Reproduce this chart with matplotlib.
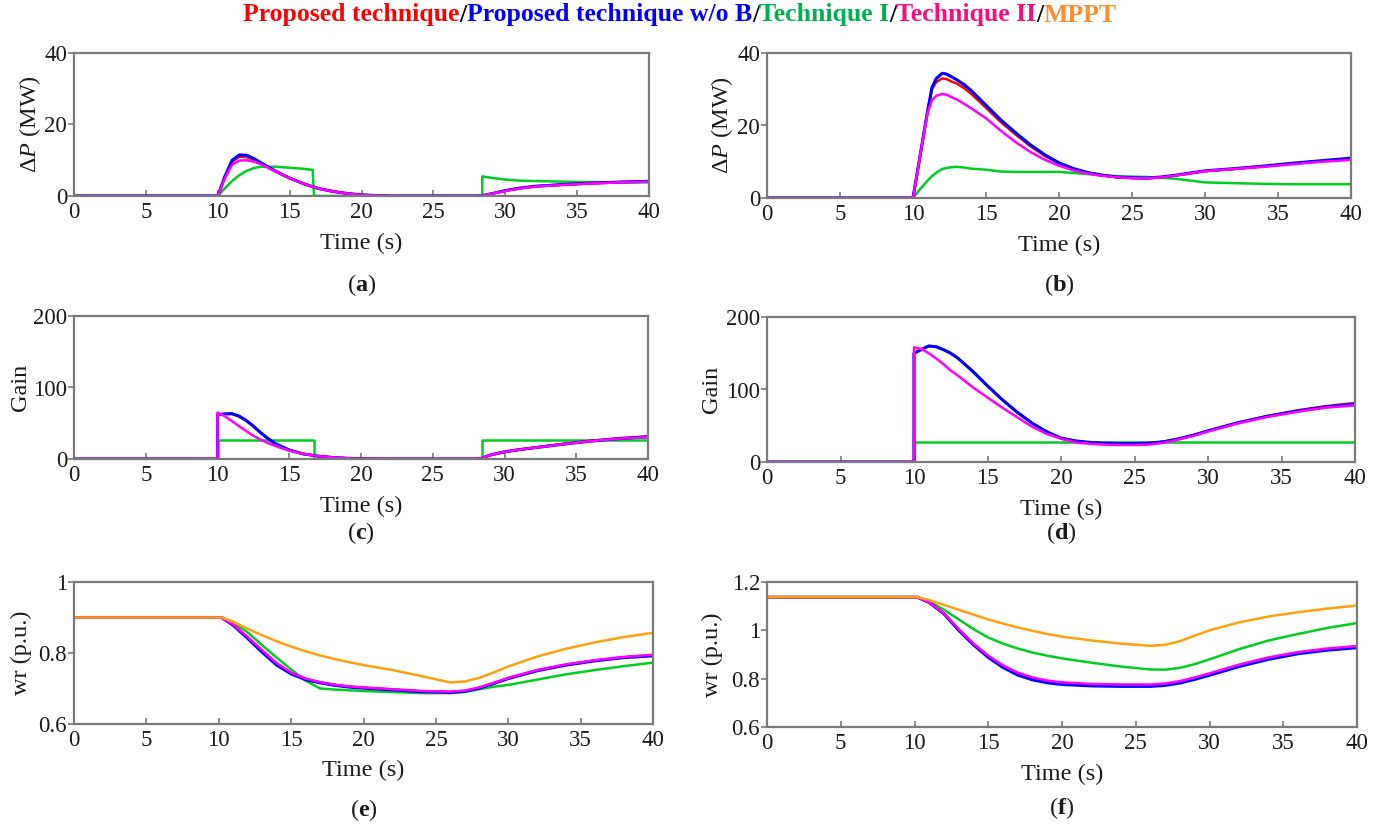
import matplotlib
matplotlib.use("Agg")
import matplotlib.pyplot as plt

plt.rcParams['font.family'] = ['Liberation Serif', 'DejaVu Serif']
plt.rcParams['mathtext.fontset'] = 'custom'
plt.rcParams['mathtext.rm'] = 'Liberation Serif'
plt.rcParams['mathtext.it'] = 'Liberation Serif:italic'
plt.rcParams['mathtext.bf'] = 'Liberation Serif:bold'

# ---------------- data ----------------
# (a) power increment, case 1
T_A = [0, 10, 10.5, 11, 11.5, 12, 12.5, 13, 14, 15, 16, 16.6, 16.7, 17, 18, 19, 20, 22, 25,
       28, 28.4, 28.4, 29, 30, 31, 32, 34, 36, 38, 40]
A_BLUE = [0, 0, 5.5, 10.0, 11.5, 11.4, 10.5, 9.3, 7.0, 5.0, 3.4, 2.6, 2.5, 2.1, 1.3, 0.7, 0.3, 0, 0,
          0, 0.1, 0.1, 0.6, 1.5, 2.2, 2.7, 3.2, 3.6, 3.9, 4.1]
A_RED = [0, 0, 5.3, 9.6, 11.0, 10.9, 10.2, 9.1, 6.9, 5.0, 3.4, 2.6, 2.5, 2.1, 1.3, 0.7, 0.3, 0, 0,
         0, 0.1, 0.1, 0.6, 1.5, 2.2, 2.7, 3.2, 3.6, 3.9, 4.1]
A_MAG = [0, 0, 5.0, 8.8, 9.9, 10.0, 9.6, 8.9, 6.9, 5.0, 3.4, 2.6, 2.5, 2.1, 1.3, 0.7, 0.3, 0, 0,
         0, 0.1, 0.1, 0.6, 1.4, 2.1, 2.6, 3.1, 3.5, 3.8, 4.0]
A_GREEN = [0, 0, 2.2, 4.2, 5.8, 7.0, 7.8, 8.2, 8.2, 7.9, 7.6, 7.3, 0, 0, 0, 0, 0, 0, 0,
           0, 0, 5.5, 5.1, 4.6, 4.3, 4.2, 4.0, 3.9, 3.8, 3.8]

# (b) power increment, case 2
T_B = [0, 10, 10.5, 11, 11.3, 11.6, 12, 12.3, 12.7, 13, 13.5, 14, 15, 16, 17, 18, 19, 20, 21, 22,
       23, 24, 25, 26, 27, 28, 29, 30, 32, 34, 36, 38, 40]
B_BLUE = [0, 0, 12, 24, 30.5, 33.0, 34.4, 34.2, 33.3, 32.6, 31.3, 29.6, 25.6, 21.6, 18.1, 14.8, 12.0,
          9.7, 8.1, 7.0, 6.3, 5.8, 5.6, 5.5, 5.8, 6.3, 6.9, 7.5, 8.1, 8.8, 9.6, 10.3, 11.0]
B_RED = [0, 0, 12, 24, 30.0, 32.0, 33.0, 32.8, 32.0, 31.6, 30.3, 28.7, 24.9, 21.0, 17.6, 14.4, 11.7,
         9.5, 8.0, 6.9, 6.2, 5.7, 5.5, 5.4, 5.7, 6.2, 6.8, 7.4, 8.0, 8.7, 9.5, 10.2, 10.8]
B_MAG = [0, 0, 12, 23.5, 27.0, 28.2, 28.7, 28.5, 27.7, 27.2, 26.0, 24.7, 22.0, 18.6, 15.5, 12.8, 10.6,
         8.9, 7.6, 6.7, 6.1, 5.7, 5.5, 5.4, 5.7, 6.2, 6.8, 7.4, 8.0, 8.6, 9.3, 10.0, 10.5]
B_GREEN = [0, 0, 2.5, 4.8, 6.0, 7.0, 8.0, 8.3, 8.5, 8.6, 8.4, 8.1, 7.8, 7.3, 7.2, 7.2, 7.2, 7.2, 6.9,
           6.6, 6.2, 6.0, 5.9, 5.8, 5.6, 5.3, 4.8, 4.3, 4.1, 3.9, 3.8, 3.8, 3.8]

# (c) controller gain, case 1
T_C = [0, 10, 10, 10.5, 11, 11.5, 12, 12.5, 13, 13.5, 14, 15, 16, 16.7, 16.7, 17, 18, 19, 20, 22,
       25, 28, 28.4, 28.4, 29, 30, 31, 32, 34, 36, 38, 40]
C_BLUE = [0, 0, 62, 63, 63.5, 60, 54, 46, 37, 29, 22, 12.5, 7, 5, 5, 4, 2.2, 1.0, 0.3, 0,
          0, 0, 1, 1, 5.5, 10, 13, 15.5, 20.5, 25, 28.5, 31]
C_RED = [0, 0, 62, 63, 63, 59.5, 53.5, 45.5, 36.5, 28.5, 21.5, 12.5, 7, 5, 5, 4, 2.2, 1.0, 0.3, 0,
         0, 0, 1, 1, 5.5, 10, 13, 15.8, 21, 25.5, 29, 31.5]
C_MAG = [0, 0, 65, 60, 53, 46, 39, 32.5, 27, 22.5, 18.5, 11.5, 7, 5, 5, 4, 2.2, 1.0, 0.3, 0,
         0, 0, 1, 1, 5.5, 10, 13, 15.5, 20.5, 25, 28.5, 30.5]
C_GREEN = [0, 0, 27, 27, 27, 27, 27, 27, 27, 27, 27, 27, 27, 27, 0, 0, 0, 0, 0, 0,
           0, 0, 0, 27, 27, 27, 27, 27, 27, 27, 27, 27]

# (d) controller gain, case 2
T_D = [0, 10, 10, 10.5, 11, 11.5, 12, 12.5, 13, 13.5, 14, 15, 16, 17, 18, 19, 20, 21, 22, 23, 24,
       25, 26, 27, 28, 29, 30, 32, 34, 36, 38, 40]
D_BLUE = [0, 0, 150, 155, 160, 159, 155, 150, 143, 134, 125, 105, 86, 69, 54, 42, 33, 29, 27, 26,
          25.5, 25.5, 26, 28, 32, 37, 43, 54, 63, 70, 76, 80]
D_RED = [0, 0, 150, 155, 160, 159, 155, 150, 143, 134, 125, 105, 86, 69, 54, 42, 33, 29, 27, 26,
         25.5, 25.5, 26, 28, 32, 37, 43, 54, 63, 71, 77, 81.5]
D_MAG = [0, 0, 158, 156, 150, 143, 135, 126, 119, 111, 103, 89, 75, 62, 49, 39, 32, 27, 25, 24,
         23.5, 23.5, 24, 26.5, 31, 36, 42, 53, 62, 69, 75, 78]
D_GREEN = [0, 0, 27, 27, 27, 27, 27, 27, 27, 27, 27, 27, 27, 27, 27, 27, 27, 27, 27, 27,
           27, 27, 27, 27, 27, 27, 27, 27, 27, 27, 27, 27]

# (e) rotor speed, case 1
T_E = [0, 10.2, 11, 12, 13, 14, 15, 16, 17, 18, 19, 20, 22, 24, 26, 27, 28, 29, 30, 32, 34, 36, 38, 40]
E_ORANGE = [0.9, 0.9, 0.888, 0.868, 0.850, 0.833, 0.818, 0.805, 0.793, 0.783, 0.774, 0.766, 0.752,
            0.735, 0.717, 0.720, 0.730, 0.745, 0.762, 0.790, 0.812, 0.830, 0.845, 0.857]
E_MAG = [0.9, 0.9, 0.880, 0.845, 0.808, 0.772, 0.745, 0.728, 0.718, 0.711, 0.706, 0.703, 0.698,
         0.693, 0.691, 0.694, 0.703, 0.716, 0.730, 0.752, 0.768, 0.780, 0.789, 0.795]
E_BLUE = [0.9, 0.9, 0.878, 0.841, 0.802, 0.766, 0.741, 0.725, 0.716, 0.709, 0.704, 0.701, 0.696,
          0.691, 0.689, 0.692, 0.701, 0.714, 0.728, 0.750, 0.766, 0.778, 0.787, 0.792]
E_RED = [0.9, 0.9, 0.879, 0.843, 0.805, 0.769, 0.743, 0.727, 0.717, 0.710, 0.705, 0.702, 0.697,
         0.692, 0.690, 0.693, 0.702, 0.715, 0.729, 0.751, 0.767, 0.779, 0.788, 0.794]
E_GREEN = [0.9, 0.9, 0.886, 0.858, 0.822, 0.787, 0.754, 0.722, 0.700, 0.697, 0.695, 0.693, 0.690,
           0.687, 0.687, 0.690, 0.698, 0.705, 0.710, 0.725, 0.740, 0.752, 0.763, 0.773]

# (f) rotor speed, case 2
T_F = T_E
F_ORANGE = [1.137, 1.137, 1.125, 1.105, 1.085, 1.065, 1.045, 1.028, 1.012, 0.998, 0.985, 0.974,
            0.958, 0.945, 0.936, 0.940, 0.955, 0.978, 1.000, 1.033, 1.057, 1.075, 1.090, 1.103]
F_GREEN = [1.137, 1.137, 1.120, 1.085, 1.045, 1.005, 0.970, 0.945, 0.925, 0.908, 0.895, 0.884,
           0.866, 0.850, 0.838, 0.837, 0.845, 0.860, 0.880, 0.922, 0.958, 0.985, 1.010, 1.030]
F_MAG = [1.137, 1.137, 1.115, 1.070, 1.005, 0.945, 0.895, 0.855, 0.825, 0.805, 0.792, 0.785,
         0.778, 0.776, 0.776, 0.780, 0.790, 0.805, 0.822, 0.858, 0.888, 0.910, 0.925, 0.935]
F_RED = [1.137, 1.137, 1.115, 1.069, 1.003, 0.943, 0.892, 0.851, 0.820, 0.800, 0.788, 0.781,
         0.774, 0.772, 0.772, 0.776, 0.786, 0.801, 0.818, 0.854, 0.884, 0.906, 0.921, 0.931]
F_BLUE = [1.137, 1.137, 1.115, 1.068, 1.000, 0.940, 0.888, 0.846, 0.815, 0.795, 0.783, 0.776,
          0.770, 0.768, 0.768, 0.772, 0.782, 0.797, 0.814, 0.850, 0.880, 0.903, 0.918, 0.928]

X_TICKS = [0, 5, 10, 15, 20, 25, 30, 35, 40]

# ---------------- styling ----------------
C_RED_L = '#FF0000'
C_BLUE_L = '#0000FF'
C_GREEN_L = '#00CC22'
C_MAG_L = '#FF00FF'
C_ORANGE_L = '#FFA010'
SPINE = '#7a7a7a'
TXT = '#1a1a1a'
LW = 1.8

W, H = 1383, 830
fig = plt.figure(figsize=(W / 100, H / 100), dpi=100)


def px_axes(x0, x1, y0, y1):
    return fig.add_axes([x0 / W, 1 - y1 / H, (x1 - x0) / W, (y1 - y0) / H])


def style(ax, ylim, yticks, yticklabels, ylabel, ylab_x):
    ax.set_xlim(0, 40)
    ax.set_ylim(*ylim)
    ax.set_xticks(X_TICKS)
    ax.set_yticks(yticks)
    ax.set_yticklabels(yticklabels)
    for s in ax.spines.values():
        s.set_color(SPINE)
        s.set_linewidth(1.6)
    ax.tick_params(axis='x', direction='in', length=4, width=1.2, color=SPINE,
                   labelsize=16.5, pad=4, labelcolor=TXT)
    ax.tick_params(axis='y', direction='out', length=4, width=1.2, color=SPINE,
                   labelsize=16.5, pad=1, labelcolor=TXT)
    ax.set_xlabel('Time (s)', fontsize=17.5, color=TXT)
    ax.xaxis.set_label_coords(0.5, -0.33)
    ax.xaxis.label.set_va('center')
    ax.set_ylabel(ylabel, fontsize=17.5, color=TXT)
    ax.yaxis.set_label_coords(ylab_x, 0.5)
    ax.yaxis.label.set_va('center')


ax_a = px_axes(74, 649, 53, 196)
ax_b = px_axes(767, 1351, 53, 198)
ax_c = px_axes(74, 648, 316, 459)
ax_d = px_axes(767, 1355, 317, 462)
ax_e = px_axes(74, 653, 582, 724)
ax_f = px_axes(767, 1357, 582, 727)

for ax, t, g, b, r, m in [(ax_a, T_A, A_GREEN, A_BLUE, A_RED, A_MAG),
                          (ax_b, T_B, B_GREEN, B_BLUE, B_RED, B_MAG),
                          (ax_c, T_C, C_GREEN, C_BLUE, C_RED, C_MAG),
                          (ax_d, T_D, D_GREEN, D_BLUE, D_RED, D_MAG)]:
    ax.plot(t, g, color=C_GREEN_L, lw=LW)
    ax.plot(t, r, color=C_RED_L, lw=LW)
    ax.plot(t, b, color=C_BLUE_L, lw=LW + 0.4)
    ax.plot(t, m, color=C_MAG_L, lw=LW)

for ax, t, g, b, r, m, o in [(ax_e, T_E, E_GREEN, E_BLUE, E_RED, E_MAG, E_ORANGE),
                             (ax_f, T_F, F_GREEN, F_BLUE, F_RED, F_MAG, F_ORANGE)]:
    ax.plot(t, g, color=C_GREEN_L, lw=LW)
    ax.plot(t, r, color=C_RED_L, lw=LW)
    ax.plot(t, b, color=C_BLUE_L, lw=LW + 0.4)
    ax.plot(t, m, color=C_MAG_L, lw=LW)
    ax.plot(t, o, color=C_ORANGE_L, lw=LW)

dp_label = r'$\Delta P$ (MW)'
style(ax_a, (0, 40), [0, 20, 40], ['0', '20', '40'], dp_label, -0.076)
style(ax_b, (0, 40), [0, 20, 40], ['0', '20', '40'], dp_label, -0.077)
style(ax_c, (0, 200), [0, 100, 200], ['0', '100', '200'], 'Gain', -0.094)
style(ax_d, (0, 200), [0, 100, 200], ['0', '100', '200'], 'Gain', -0.094)
style(ax_e, (0.6, 1.0), [0.6, 0.8, 1.0], ['0.6', '0.8', '1'], 'wr (p.u.)', -0.09)
style(ax_f, (0.6, 1.2), [0.6, 0.8, 1.0, 1.2], ['0.6', '0.8', '1', '1.2'], 'wr (p.u.)', -0.092)

# panel captions
for ax, letter, y in [(ax_a, 'a', 285), (ax_b, 'b', 285), (ax_c, 'c', 533),
                      (ax_d, 'd', 533), (ax_e, 'e', 810), (ax_f, 'f', 808)]:
    pos = ax.get_position()
    fig.text(pos.x0 + pos.width / 2, 1 - y / H, r'($\mathbf{%s}$)' % letter,
             ha='center', va='center', fontsize=17.5, color=TXT)

# colour-coded legend line at the top
pieces = [('Proposed technique', '#FF0000'), ('/', '#000000'),
          ('Proposed technique w/o B', '#0000FF'), ('/', '#000000'),
          ('Technique I', '#00B050'), ('/', '#000000'),
          ('Technique II', '#FF0A7A'), ('/', '#000000'),
          ('MPPT', '#FF8C2E')]
renderer = fig.canvas.get_renderer()
texts = []
widths = []
for s, c in pieces:
    tx = fig.text(0, 1 - 15 / H, s, color=c, fontsize=18.5, fontweight='bold',
                  ha='left', va='center')
    bb = tx.get_window_extent(renderer=renderer)
    texts.append(tx)
    widths.append(bb.width)
total = sum(widths)
x = 680 - total / 2
for tx, w in zip(texts, widths):
    tx.set_x(x / W)
    x += w

fig.savefig('out.png', dpi=100)
